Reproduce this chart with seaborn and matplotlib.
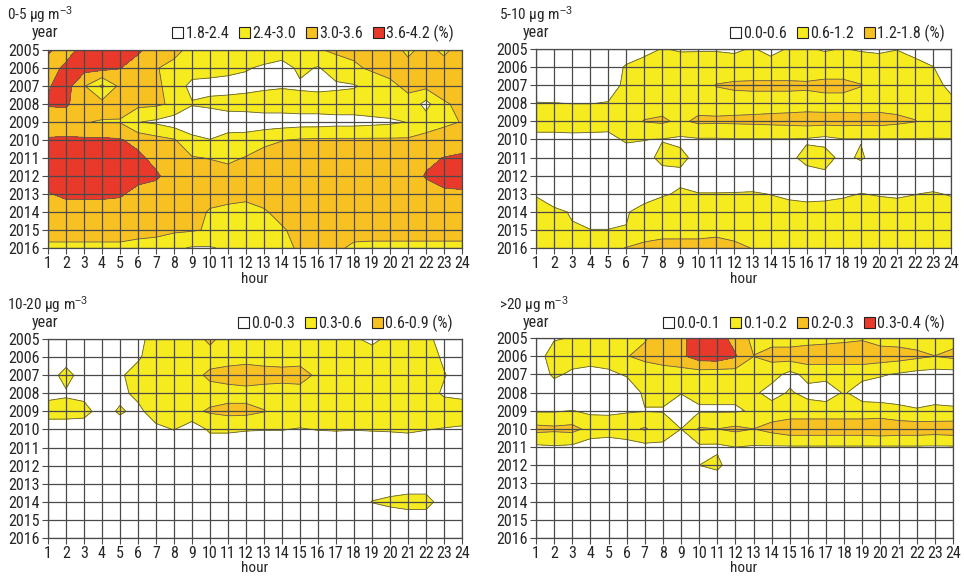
import numpy as np
import matplotlib
matplotlib.use("Agg")
import matplotlib.pyplot as plt
import matplotlib.font_manager as fm
from matplotlib.patches import Patch
import seaborn as sns

hours = list(range(1, 25))
years = list(range(2005, 2017))
hour_labels = [str(h) for h in hours]
year_labels = [str(y) for y in years]

# 0-5 ug m-3 (%)
pm_0_5 = [
    [3.7, 3.3, 3.85, 3.9, 3.8, 3.7, 3.3, 3.1, 2.9, 2.8, 2.8, 2.8, 2.8, 2.8, 2.85, 2.95, 3.1, 3.15, 3.2, 3.2, 2.9, 3.15, 2.9, 3.2],
    [3.3, 3.75, 3.8, 3.8, 3.62, 3.3, 3.02, 2.9, 2.75, 2.65, 2.55, 2.45, 2.3, 2.1, 2.55, 2.35, 2.7, 2.9, 3.1, 3.15, 3.15, 3.2, 3.2, 3.25],
    [3.55, 3.85, 3.05, 2.3, 3.15, 3.25, 3.1, 2.8, 2.2, 2.2, 2.2, 2.2, 2.3, 2.35, 2.3, 2.25, 2.3, 2.35, 2.6, 2.9, 3.1, 3.15, 3.2, 3.25],
    [3.65, 3.7, 3.2, 3.2, 3.15, 3.15, 3.1, 2.9, 2.45, 2.55, 2.6, 2.7, 2.7, 2.7, 2.7, 2.7, 2.7, 2.7, 2.75, 2.8, 2.85, 2.2, 2.95, 3.1],
    [3.3, 3.2, 3.02, 2.97, 2.97, 2.42, 2.3, 2.1, 1.9, 1.9, 2.1, 2.0, 2.1, 2.1, 2.15, 2.15, 2.2, 2.2, 2.25, 2.3, 2.42, 2.7, 2.9, 3.02],
    [3.65, 3.7, 3.7, 3.7, 3.65, 3.4, 3.2, 3.05, 2.6, 2.42, 2.6, 2.7, 2.8, 2.98, 3.05, 3.08, 3.08, 3.08, 3.08, 3.08, 3.08, 3.2, 3.25, 3.3],
    [3.9, 3.95, 3.95, 3.95, 3.9, 3.75, 3.4, 3.2, 3.04, 2.98, 2.9, 3.03, 3.3, 3.3, 3.3, 3.3, 3.3, 3.3, 3.3, 3.3, 3.3, 3.45, 3.62, 3.7],
    [4.0, 4.0, 4.0, 4.0, 3.95, 3.85, 3.7, 3.3, 3.3, 3.25, 3.2, 3.25, 3.3, 3.35, 3.35, 3.35, 3.35, 3.35, 3.35, 3.3, 3.3, 3.65, 3.8, 3.9],
    [3.55, 3.75, 3.75, 3.75, 3.7, 3.35, 3.3, 3.3, 3.25, 3.2, 3.2, 3.15, 3.2, 3.3, 3.3, 3.3, 3.3, 3.3, 3.3, 3.3, 3.3, 3.35, 3.5, 3.5],
    [3.25, 3.25, 3.25, 3.25, 3.2, 3.2, 3.2, 3.2, 3.2, 2.95, 2.85, 2.8, 2.95, 3.15, 3.3, 3.3, 3.3, 3.3, 3.3, 3.3, 3.3, 3.3, 3.3, 3.3],
    [3.1, 3.1, 3.1, 3.1, 3.1, 3.1, 3.1, 3.1, 3.05, 2.95, 2.8, 2.8, 2.85, 2.95, 3.15, 3.2, 3.2, 3.1, 3.08, 3.08, 3.08, 3.08, 3.08, 3.08],
    [2.95, 2.95, 2.95, 2.95, 2.95, 2.9, 2.85, 2.5, 2.35, 2.35, 2.5, 2.8, 2.85, 2.9, 3.05, 3.1, 3.05, 2.95, 2.95, 2.95, 2.95, 2.95, 2.95, 2.95],
]

# 5-10 ug m-3 (%)
pm_5_10 = [
    [0.2, 0.2, 0.2, 0.2, 0.2, 0.3, 0.45, 0.62, 0.55, 0.55, 0.55, 0.5, 0.65, 0.4, 0.65, 0.65, 0.55, 0.62, 0.55, 0.5, 0.58, 0.45, 0.35, 0.3],
    [0.3, 0.3, 0.3, 0.3, 0.35, 0.65, 0.8, 0.85, 0.85, 0.9, 0.9, 0.9, 0.9, 0.9, 0.9, 0.9, 0.9, 0.9, 0.9, 0.9, 0.9, 0.75, 0.61, 0.4],
    [0.3, 0.3, 0.3, 0.3, 0.4, 0.7, 0.9, 0.95, 1.0, 1.0, 1.22, 1.28, 1.3, 1.3, 1.3, 1.28, 1.35, 1.35, 1.22, 1.0, 0.95, 0.9, 0.8, 0.45],
    [0.62, 0.61, 0.59, 0.59, 0.62, 0.9, 1.0, 1.0, 1.0, 1.0, 1.0, 1.0, 1.0, 1.0, 1.0, 1.0, 1.0, 1.0, 1.0, 1.0, 1.0, 1.0, 0.95, 0.75],
    [0.9, 0.9, 0.92, 0.92, 0.9, 1.0, 1.22, 1.28, 1.1, 1.3, 1.28, 1.3, 1.32, 1.35, 1.38, 1.42, 1.4, 1.4, 1.38, 1.4, 1.32, 1.22, 1.0, 0.95],
    [0.4, 0.4, 0.42, 0.4, 0.38, 0.7, 0.61, 0.58, 0.5, 0.55, 0.55, 0.57, 0.57, 0.57, 0.57, 0.55, 0.45, 0.57, 0.57, 0.57, 0.57, 0.57, 0.57, 0.58],
    [0.2, 0.2, 0.2, 0.2, 0.2, 0.2, 0.45, 0.72, 0.72, 0.45, 0.2, 0.2, 0.2, 0.2, 0.5, 0.72, 0.8, 0.45, 0.68, 0.3, 0.2, 0.2, 0.2, 0.2],
    [0.2, 0.2, 0.2, 0.2, 0.2, 0.2, 0.2, 0.45, 0.5, 0.2, 0.2, 0.2, 0.2, 0.2, 0.2, 0.45, 0.5, 0.3, 0.2, 0.2, 0.2, 0.2, 0.2, 0.2],
    [0.55, 0.45, 0.35, 0.3, 0.3, 0.3, 0.35, 0.55, 0.65, 0.62, 0.62, 0.63, 0.65, 0.58, 0.45, 0.35, 0.4, 0.5, 0.61, 0.55, 0.5, 0.58, 0.65, 0.55],
    [0.85, 0.65, 0.58, 0.3, 0.3, 0.55, 0.8, 0.85, 0.9, 0.9, 0.9, 0.9, 0.9, 0.9, 0.9, 0.9, 0.9, 0.9, 0.9, 0.9, 0.9, 0.9, 0.9, 0.9],
    [0.9, 0.9, 0.62, 0.61, 0.61, 0.62, 0.9, 1.0, 1.0, 1.0, 1.0, 0.95, 0.95, 0.95, 0.95, 0.95, 0.95, 0.95, 0.95, 0.95, 0.95, 0.95, 0.95, 0.95],
    [0.9, 0.95, 0.95, 1.0, 1.05, 1.22, 1.35, 1.4, 1.4, 1.4, 1.5, 1.35, 1.18, 1.1, 1.0, 1.0, 1.0, 1.0, 1.0, 1.0, 1.0, 1.0, 1.0, 0.95],
]

# 10-20 ug m-3 (%)
pm_10_20 = [
    [0.1, 0.1, 0.1, 0.1, 0.1, 0.2, 0.45, 0.45, 0.5, 0.65, 0.5, 0.5, 0.5, 0.5, 0.5, 0.5, 0.45, 0.35, 0.2, 0.4, 0.45, 0.4, 0.15, 0.1],
    [0.1, 0.1, 0.1, 0.1, 0.1, 0.25, 0.5, 0.5, 0.5, 0.5, 0.5, 0.5, 0.5, 0.5, 0.5, 0.5, 0.5, 0.5, 0.5, 0.5, 0.5, 0.45, 0.25, 0.1],
    [0.1, 0.45, 0.1, 0.1, 0.25, 0.45, 0.5, 0.5, 0.52, 0.65, 0.7, 0.75, 0.7, 0.68, 0.7, 0.55, 0.5, 0.5, 0.5, 0.5, 0.5, 0.45, 0.32, 0.15],
    [0.2, 0.25, 0.2, 0.1, 0.2, 0.4, 0.5, 0.5, 0.5, 0.5, 0.5, 0.5, 0.5, 0.5, 0.5, 0.5, 0.5, 0.5, 0.5, 0.5, 0.5, 0.45, 0.25, 0.2],
    [0.45, 0.45, 0.42, 0.15, 0.35, 0.2, 0.5, 0.5, 0.55, 0.63, 0.68, 0.68, 0.61, 0.5, 0.5, 0.5, 0.5, 0.5, 0.5, 0.5, 0.5, 0.5, 0.5, 0.5],
    [0.1, 0.1, 0.1, 0.1, 0.1, 0.1, 0.2, 0.31, 0.1, 0.35, 0.35, 0.32, 0.31, 0.31, 0.28, 0.31, 0.32, 0.31, 0.32, 0.33, 0.35, 0.31, 0.28, 0.25],
    [0.1] * 24,
    [0.1] * 24,
    [0.1] * 24,
    [0.1] * 18 + [0.31, 0.38, 0.45, 0.45, 0.1, 0.1],
    [0.1] * 24,
    [0.1] * 24,
]

# >20 ug m-3 (%)
pm_20 = [
    [0.04, 0.09, 0.105, 0.12, 0.12, 0.12, 0.19, 0.25, 0.27, 0.36, 0.36, 0.25, 0.18, 0.17, 0.15, 0.16, 0.17, 0.18, 0.19, 0.16, 0.16, 0.16, 0.15, 0.17],
    [0.05, 0.15, 0.15, 0.15, 0.15, 0.195, 0.23, 0.25, 0.28, 0.35, 0.36, 0.31, 0.201, 0.23, 0.25, 0.26, 0.26, 0.26, 0.26, 0.25, 0.24, 0.22, 0.201, 0.22],
    [0.03, 0.12, 0.08, 0.06, 0.08, 0.11, 0.13, 0.15, 0.15, 0.15, 0.14, 0.15, 0.15, 0.14, 0.07, 0.13, 0.13, 0.13, 0.13, 0.11, 0.09, 0.07, 0.06, 0.06],
    [0.01, 0.03, 0.03, 0.03, 0.03, 0.03, 0.12, 0.12, 0.105, 0.12, 0.12, 0.12, 0.12, 0.06, 0.11, 0.07, 0.05, 0.11, 0.05, 0.04, 0.04, 0.04, 0.04, 0.04],
    [0.09, 0.09, 0.102, 0.08, 0.08, 0.09, 0.095, 0.095, 0.04, 0.09, 0.09, 0.09, 0.11, 0.15, 0.15, 0.15, 0.15, 0.15, 0.15, 0.15, 0.13, 0.11, 0.13, 0.12],
    [0.23, 0.22, 0.23, 0.17, 0.16, 0.17, 0.21, 0.15, 0.1, 0.21, 0.2, 0.22, 0.2, 0.23, 0.26, 0.26, 0.26, 0.26, 0.26, 0.27, 0.26, 0.26, 0.25, 0.26],
    [0.08, 0.09, 0.08, 0.04, 0.03, 0.05, 0.07, 0.08, 0.04, 0.08, 0.08, 0.1, 0.09, 0.09, 0.09, 0.09, 0.09, 0.09, 0.09, 0.09, 0.09, 0.09, 0.09, 0.09],
    [0.02] * 9 + [0.1, 0.13] + [0.02] * 13,
    [0.02] * 24,
    [0.02] * 24,
    [0.02] * 24,
    [0.02] * 24,
]

titles = ["0-5 μg m$^{-3}$", "5-10 μg m$^{-3}$", "10-20 μg m$^{-3}$", ">20 μg m$^{-3}$"]
levels_list = [
    [1.8, 2.4, 3.0, 3.6, 4.2],
    [0.0, 0.6, 1.2, 1.8],
    [0.0, 0.3, 0.6, 0.9],
    [0.0, 0.1, 0.2, 0.3, 0.4],
]
legend_labels = [
    ["1.8-2.4", "2.4-3.0", "3.0-3.6", "3.6-4.2 (%)"],
    ["0.0-0.6", "0.6-1.2", "1.2-1.8 (%)"],
    ["0.0-0.3", "0.3-0.6", "0.6-0.9 (%)"],
    ["0.0-0.1", "0.1-0.2", "0.2-0.3", "0.3-0.4 (%)"],
]

WHITE, YELLOW, ORANGE, RED = "#FFFFFF", "#F6EB1E", "#F8C122", "#E8392A"
palette4 = [WHITE, YELLOW, ORANGE, RED]

sns.set_theme(style="white")

# prefer a narrow sans font if one is installed
installed = {f.name for f in fm.fontManager.ttflist}
narrow = None
for cand in ["Liberation Sans Narrow", "Arial Narrow", "Roboto Condensed", "Open Sans Condensed"]:
    if cand in installed:
        narrow = cand
        break
if narrow:
    plt.rcParams["font.family"] = [narrow, "Liberation Sans", "DejaVu Sans"]
    FS = 11
else:
    plt.rcParams["font.family"] = ["Liberation Sans", "DejaVu Sans"]
    FS = 10
plt.rcParams["mathtext.fontset"] = "custom"
plt.rcParams["mathtext.rm"] = "Liberation Sans"
plt.rcParams["mathtext.it"] = "Liberation Sans"

W, H = 964, 576
fig = plt.figure(figsize=(W / 100, H / 100), dpi=100)

# axes in pixel coordinates: left, right, top, bottom
boxes = [(48, 462, 50, 248), (536, 951, 49, 248), (48, 462, 339, 538), (536, 953, 338, 538)]
title_pos = [(7, 15), (499, 15), (7, 305), (499, 305)]
year_pos = [(45, 33), (536, 33), (45, 323), (536, 323)]
hour_pos = [(255, 279), (744, 279), (255, 568), (744, 568)]
legend_right = [(454, 33), (945, 33), (453, 323), (945, 323)]

datasets = [pm_0_5, pm_5_10, pm_10_20, pm_20]
X, Y = np.meshgrid(hours, years)
grid_color = "#4a4a4a"

for i, data in enumerate(datasets):
    l, r, t, b = boxes[i]
    ax = fig.add_axes([l / W, 1 - b / H, (r - l) / W, (b - t) / H])
    Z = np.array(data, dtype=float)
    levels = levels_list[i]
    cols = palette4[: len(levels) - 1]
    ax.contourf(X, Y, Z, levels=levels, colors=cols, zorder=1)
    ax.contour(X, Y, Z, levels=levels[1:-1], colors="#62604a", linewidths=0.6, zorder=2)
    ax.set_xlim(1, 24)
    ax.set_ylim(2016, 2005)
    ax.set_xticks(hours)
    ax.set_xticklabels(hour_labels)
    ax.set_yticks(years)
    ax.set_yticklabels(year_labels)
    ax.set_axisbelow(False)
    ax.grid(True, color=grid_color, linewidth=0.9)
    for sp in ax.spines.values():
        sp.set_color(grid_color)
        sp.set_linewidth(0.9)
    ax.tick_params(axis="both", which="major", length=4, width=0.8, color=grid_color,
                   labelsize=FS + 0.5, pad=2, direction="out", bottom=True, left=True)
    ax.tick_params(axis="x", pad=1.5)

    tx, ty = title_pos[i]
    fig.text(tx / W, 1 - ty / H, titles[i], fontsize=FS, ha="left", va="center")
    yx, yy = year_pos[i]
    fig.text(yx / W, 1 - yy / H, "year", fontsize=FS + 0.5, ha="center", va="center")
    hx, hy = hour_pos[i]
    fig.text(hx / W, 1 - hy / H, "hour", fontsize=FS, ha="center", va="center")

    handles = [Patch(facecolor=c, edgecolor="#222222", linewidth=0.8) for c in cols]
    lx, ly = legend_right[i]
    fig.legend(handles, legend_labels[i], loc="center right", bbox_to_anchor=(lx / W, 1 - ly / H),
               bbox_transform=fig.transFigure, ncol=len(cols), frameon=False, fontsize=FS + 0.5,
               handlelength=0.7, handleheight=0.7, handletextpad=0.15, columnspacing=0.6,
               borderpad=0, borderaxespad=0)

fig.savefig("out.png", dpi=100)
